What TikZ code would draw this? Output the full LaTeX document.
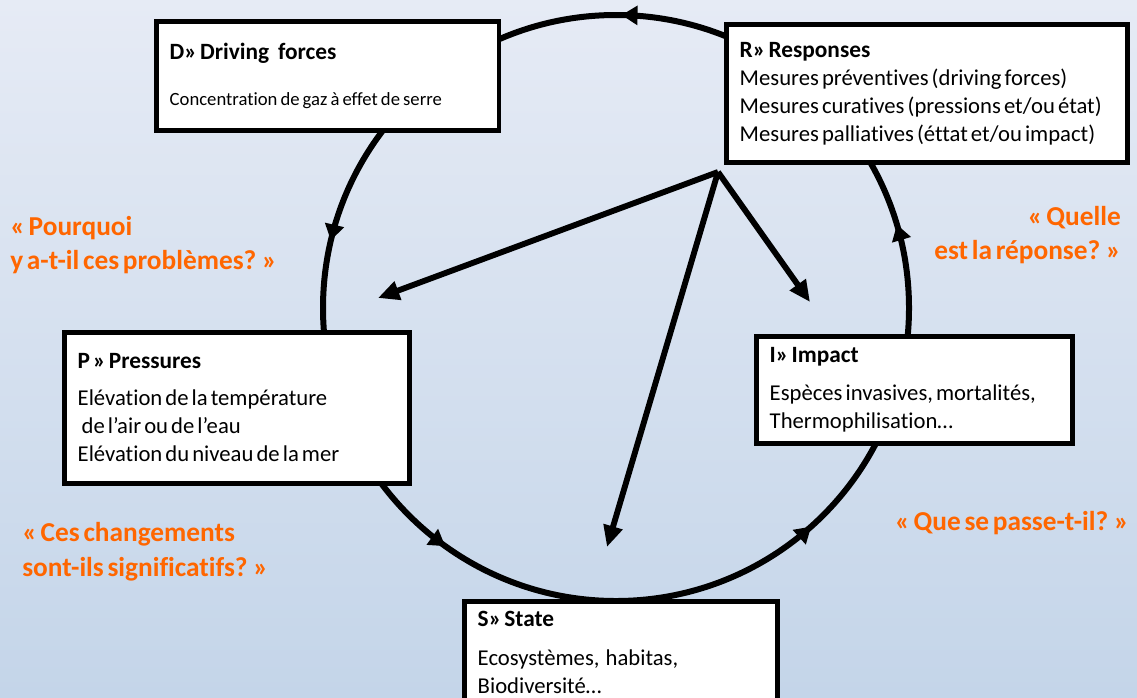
\documentclass[tikz,border=0pt]{standalone}
\usepackage{fontspec}
\setmainfont{Carlito}[WordSpace=0.6,Ligatures=NoCommon]
\usetikzlibrary{arrows.meta,decorations.markings}
\definecolor{bgtop}{RGB}{230,235,245}
\definecolor{bgbot}{RGB}{196,213,233}
\definecolor{askorange}{RGB}{255,102,0}
\newcommand{\boxhead}[1]{{\bfseries\fontsize{17.5}{21}\selectfont #1}}
\newcommand{\tightsp}{\spaceskip=0.136em plus 0.05em\relax}
\begin{document}
\begin{tikzpicture}[x=0.75pt,y=-0.75pt,
    box/.style={draw,line width=3.6pt,fill=white,anchor=north west,align=left,
      inner xsep=10pt,inner ysep=0pt,font=\fontsize{17}{21}\selectfont},
    ask/.style={text=askorange,inner sep=0pt,font=\bfseries\fontsize{20.5}{26}\selectfont},
    spoke/.style={line width=4.4pt,-{Triangle[length=16pt,width=14pt]}},
    loopline/.style={line width=4.5pt,decoration={markings,
      mark=at position 0.046 with {\arrow{Triangle[length=12pt,width=14pt]}},
      mark=at position 0.247 with {\arrow{Triangle[length=12pt,width=14pt]}},
      mark=at position 0.463 with {\arrow{Triangle[length=12pt,width=14pt]}},
      mark=at position 0.651 with {\arrow{Triangle[length=12pt,width=14pt]}},
      mark=at position 0.866 with {\arrow{Triangle[length=12pt,width=14pt]}}},
      postaction=decorate}]
  \useasboundingbox (0,0) rectangle (1137,697);
  \shade[top color=bgtop,bottom color=bgbot] (0,0) rectangle (1137,697);

  % the D-P-S-I-R loop
  \coordinate (c) at (616,308);
  \draw[loopline] (c) ++(0:293) arc[start angle=360,end angle=0,radius=293];

  % responses act on the other stages
  \coordinate (hub) at (718,172);
  \coordinate (toP) at (378,298);
  \coordinate (toS) at (607,547);
  \coordinate (toI) at (810,302);
  \draw[spoke] (hub) -- (toP);
  \draw[spoke] (hub) -- (toS);
  \draw[spoke] (hub) -- (toI);

  \node[box,text width=237pt,minimum height=81.75pt] (D) at (154,19)
    {\tightsp\boxhead{D» Driving\hspace{0.25em} forces}\\[13pt]{\fontsize{14}{15}\selectfont Concentration de gaz à effet de serre}};
  \node[box,text width=281pt,minimum height=103.5pt] (R) at (724,22)
    {\tightsp\boxhead{R» Responses}\\Mesures préventives (driving forces)\\Mesures curatives (pressions et/ou\ état)\\Mesures palliatives (éttat et/ou impact)};
  \node[box,text width=239pt,minimum height=113.25pt] (P) at (62,330)
    {\tightsp\boxhead{P » Pressures}\\[6.75pt]Elévation de la température\\\hspace{3pt}de l’air ou de l’eau\\Elévation du niveau de la mer};
  \node[box,text width=217pt,minimum height=80.25pt] (I) at (754,334)
    {\tightsp\boxhead{I» Impact}\\[7pt]Espèces invasives, mortalités,\\Thermophilisation…};
  \node[box,text width=215pt,minimum height=76.5pt] (S) at (462,599)
    {\tightsp\boxhead{S» State}\\[8pt]Ecosystèmes,\ \ habitas,\\Biodiversité…};

  % questions
  \node[ask,anchor=west,align=left] (why) at (10,245) {« Pourquoi\\y a-t-il ces problèmes? »};
  \node[ask,anchor=east,align=right] (resp) at (1121,235) {« Quelle\\est la réponse? »};
  \node[ask,anchor=west,align=left] (sig) at (22,552) {« Ces changements\\sont-ils significatifs? »};
  \node[ask,anchor=east] (what) at (1129,523) {« Que se passe-t-il? »};
\end{tikzpicture}
\end{document}
